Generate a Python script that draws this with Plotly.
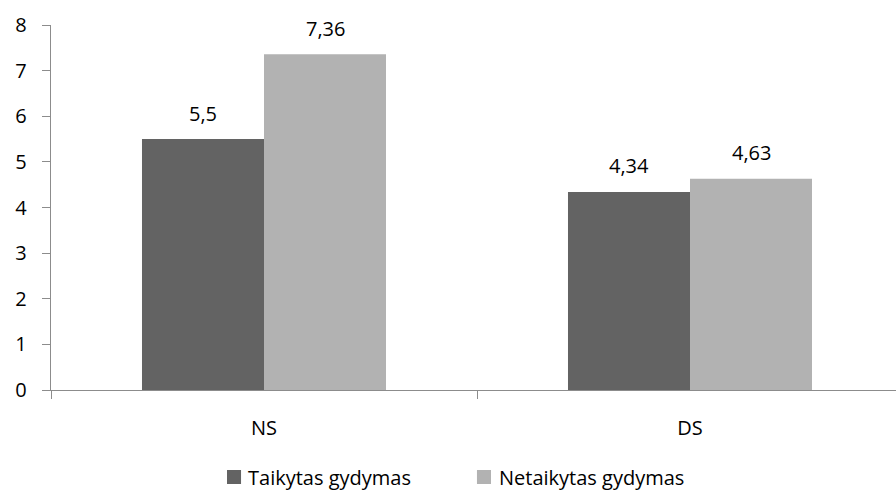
import plotly.graph_objects as go

categories = ["NS", "DS"]
series_names = ["Taikytas gydymas", "Netaikytas gydymas"]
taikytas = [5.5, 4.34]
netaikytas = [7.36, 4.63]
y_ticks = [0, 1, 2, 3, 4, 5, 6, 7, 8]

colors = ["#636363", "#b2b2b2"]
font_family = "'Open Sans', sans-serif"
axis_col = "#8c8c8c"
bar_half = 61  # half of one bar's width in pixels, used to centre value labels


def fmt(v):
    return f"{v:g}".replace(".", ",")


fig = go.Figure()
series = [taikytas, netaikytas]
for name, vals, col in zip(series_names, series, colors):
    fig.add_trace(go.Bar(
        x=categories,
        y=vals,
        name=name,
        marker=dict(color=col, line=dict(width=0)),
        showlegend=False,
    ))

# value labels above each bar
for i, vals in enumerate(series):
    shift = -bar_half if i == 0 else bar_half
    for cat, v in zip(categories, vals):
        fig.add_annotation(
            x=cat, y=v, xref="x", yref="y",
            text=fmt(v), showarrow=False,
            xshift=shift, yshift=26, yanchor="middle", xanchor="center",
            font=dict(size=20, color="#000000", family=font_family),
        )

# legend row below the chart
legend_items = [
    (series_names[0], colors[0], 0.2083, 0.2249, 0.2308),
    (series_names[1], colors[1], 0.5041, 0.5207, 0.5278),
]
for label, col, sx0, sx1, tx in legend_items:
    fig.add_shape(
        type="rect", xref="paper", yref="paper",
        x0=sx0, x1=sx1, y0=-0.2575, y1=-0.2192,
        fillcolor=col, line=dict(width=0),
    )
    fig.add_annotation(
        x=tx, y=-0.2384, xref="paper", yref="paper",
        text=label, showarrow=False, xanchor="left", yanchor="middle",
        font=dict(size=20, color="#000000", family=font_family),
    )

fig.update_layout(
    width=896,
    height=491,
    margin=dict(l=51, r=0, t=25, b=101),
    paper_bgcolor="white",
    plot_bgcolor="white",
    barmode="group",
    bargap=0.4272,
    bargroupgap=0,
    font=dict(family=font_family, size=20, color="#000000"),
    showlegend=False,
    xaxis=dict(
        type="category",
        range=[-0.5, -0.5 + 845 / 426],
        showline=True, linecolor=axis_col, linewidth=1.4,
        ticks="outside", tickson="boundaries", ticklen=8, tickcolor=axis_col, tickwidth=1.4,
        showgrid=False, zeroline=False,
        ticklabelstandoff=20,
    ),
    yaxis=dict(
        range=[0, 8],
        tickvals=y_ticks,
        showline=True, linecolor=axis_col, linewidth=1.4,
        ticks="outside", ticklen=8, tickcolor=axis_col, tickwidth=1.4,
        showgrid=False, zeroline=False,
        ticklabelstandoff=11,
    ),
)

fig.write_html("out.html")
